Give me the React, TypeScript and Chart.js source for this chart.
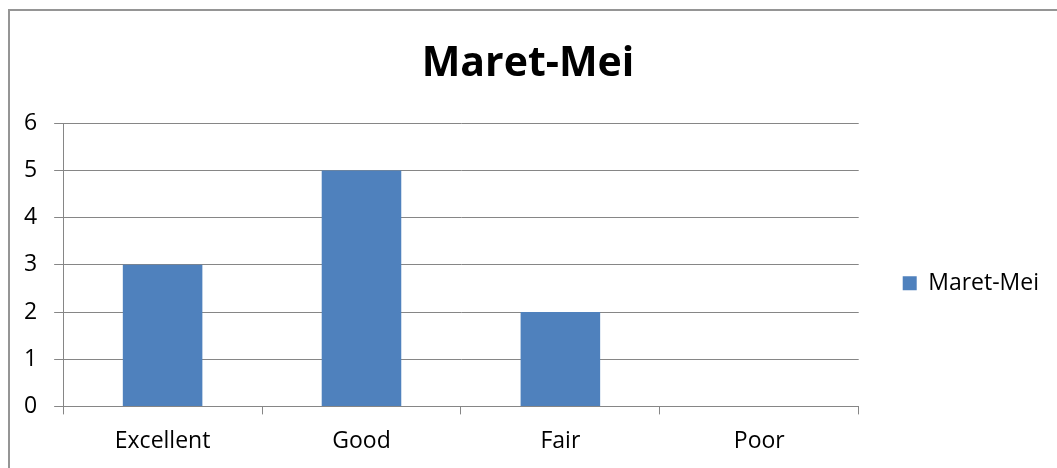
import React, { useEffect, useRef } from "react";
import { Chart, registerables } from "chart.js";

Chart.register(...registerables);

const categories = ["Excellent", "Good", "Fair", "Poor"];
const seriesLabel = "Maret-Mei";
const seriesValues = [3, 5, 2, 0];
const yTicks = [0, 1, 2, 3, 4, 5, 6];

const FONT = "'Open Sans', 'Noto Sans', sans-serif";
const GRID = "#868686";

export default function App() {
  const ref = useRef<HTMLCanvasElement | null>(null);

  useEffect(() => {
    document.documentElement.style.overflow = "hidden";
    document.body.style.margin = "0";
    document.body.style.overflow = "hidden";
    const canvas = ref.current;
    if (!canvas) return;
    const chart = new Chart(canvas, {
      type: "bar",
      data: {
        labels: categories,
        datasets: [
          {
            label: seriesLabel,
            data: seriesValues,
            backgroundColor: "#4F81BD",
            borderWidth: 0,
            barPercentage: 0.4,
            categoryPercentage: 1,
          },
        ],
      },
      options: {
        animation: false,
        responsive: false,
        maintainAspectRatio: false,
        layout: { padding: { left: 7, bottom: 0, top: 0, right: 8 } },
        plugins: {
          title: {
            display: true,
            text: seriesLabel,
            color: "#000",
            font: { family: FONT, size: 41, weight: "bold" },
            padding: { top: 40, bottom: 34 },
          },
          legend: {
            display: true,
            position: "right",
            title: {
              display: true,
              text: " ",
              font: { family: FONT, size: 12 },
              padding: { top: 42, bottom: 42 },
            },
            labels: {
              boxWidth: 14,
              boxHeight: 14,
              padding: 44,
              color: "#000",
              font: { family: FONT, size: 23 },
            },
          },
          tooltip: { enabled: false },
        },
        scales: {
          x: {
            grid: {
              display: true,
              drawOnChartArea: false,
              drawTicks: true,
              tickLength: 8,
              color: GRID,
              offset: true,
            },
            border: { display: true, color: GRID, width: 1 },
            ticks: {
              color: "#000",
              padding: 13,
              font: { family: FONT, size: 23 },
            },
          },
          y: {
            min: 0,
            max: 6,
            afterBuildTicks: (axis: any) => {
              axis.ticks = yTicks.map((v) => ({ value: v }));
            },
            grid: {
              display: true,
              drawOnChartArea: true,
              drawTicks: true,
              tickLength: 9,
              color: GRID,
            },
            border: { display: true, color: GRID, width: 1 },
            ticks: {
              color: "#000",
              padding: 17,
              font: { family: FONT, size: 23 },
            },
          },
        },
      },
    });
    return () => chart.destroy();
  }, []);

  return (
    <div style={{ position: "relative", width: 1057, height: 468, overflow: "hidden" }}>
      <canvas ref={ref} width={1057} height={468} style={{ position: "absolute", left: 0, top: 0 }} />
      <div
        style={{
          position: "absolute",
          left: 8,
          top: 9,
          width: 2000,
          height: 1000,
          border: "2px solid #959595",
          pointerEvents: "none",
        }}
      />
    </div>
  );
}
